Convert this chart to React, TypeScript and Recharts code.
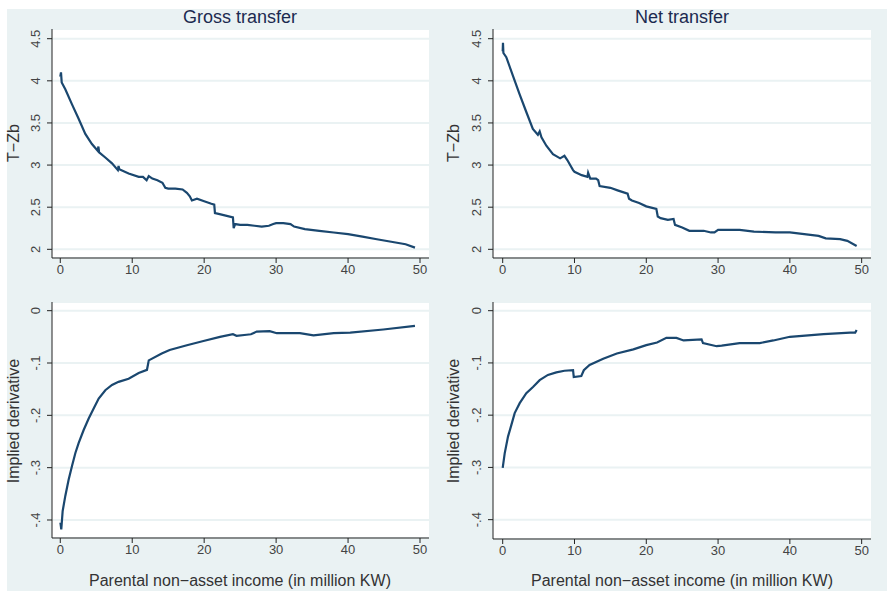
import React from "react";
import { LineChart, Line, XAxis, YAxis, CartesianGrid } from "recharts";

// Gross transfer, T-Zb (top left)
const grossX = [0, 0.1, 0.2, 0.7, 1.63, 2.55, 3.48, 4.4, 5.2, 5.3, 5.4, 6.26, 7.19, 8.0, 8.1, 8.2, 9.5, 10.9, 11.5, 12, 12.3, 12.8, 13.5, 14.2, 14.6, 15, 16, 17, 17.6, 18, 18.3, 19, 20, 21, 21.4, 21.5, 22, 23, 24, 24.1, 24.3, 25, 26, 27, 28, 29, 29.6, 30, 31, 32, 32.5, 34, 36, 38, 40, 42, 44, 46, 48, 49.3];
const grossTZb = [4.05, 4.1, 3.98, 3.9, 3.72, 3.55, 3.37, 3.25, 3.17, 3.22, 3.15, 3.09, 3.02, 2.94, 2.99, 2.95, 2.9, 2.86, 2.86, 2.82, 2.87, 2.84, 2.82, 2.79, 2.73, 2.72, 2.72, 2.71, 2.67, 2.63, 2.58, 2.6, 2.57, 2.54, 2.53, 2.43, 2.42, 2.4, 2.38, 2.25, 2.3, 2.29, 2.29, 2.28, 2.27, 2.28, 2.3, 2.31, 2.31, 2.3, 2.27, 2.24, 2.22, 2.2, 2.18, 2.15, 2.12, 2.09, 2.06, 2.02];

// Net transfer, T-Zb (top right)
const netX = [0, 0.04, 0.1, 0.5, 1.43, 2.36, 3.29, 4.2, 4.9, 5.15, 5.4, 6.08, 7.0, 8.0, 8.6, 9.0, 9.8, 10, 11, 11.8, 11.9, 12.2, 13, 13.3, 13.5, 15, 16, 17.4, 17.6, 18, 19, 20, 21.4, 21.6, 22, 23, 23.8, 24, 25, 26, 27, 28, 29, 29.5, 30, 31, 33, 35, 38, 40, 42, 44, 45, 47, 48, 49.3];
const netTZb = [4.35, 4.45, 4.33, 4.28, 4.06, 3.84, 3.63, 3.43, 3.36, 3.4, 3.33, 3.23, 3.13, 3.08, 3.11, 3.06, 2.94, 2.92, 2.88, 2.86, 2.91, 2.84, 2.84, 2.82, 2.75, 2.73, 2.7, 2.66, 2.6, 2.58, 2.55, 2.51, 2.48, 2.39, 2.37, 2.35, 2.36, 2.29, 2.26, 2.22, 2.22, 2.22, 2.2, 2.2, 2.23, 2.23, 2.23, 2.21, 2.2, 2.2, 2.18, 2.16, 2.13, 2.12, 2.1, 2.04];

// Gross transfer, implied derivative (bottom left)
const grossDX = [0.02, 0.14, 0.33, 0.7, 1.16, 1.63, 2.1, 2.55, 3.25, 3.95, 4.64, 5.34, 6.26, 7.19, 8.1, 9.5, 10.9, 12.05, 12.3, 14.1, 15.2, 17.6, 19.9, 22.2, 24, 24.5, 25.9, 26.5, 27.3, 29.1, 30.1, 33.3, 35.2, 38, 40.3, 44.9, 49.3];
const grossDeriv = [-0.405, -0.418, -0.383, -0.354, -0.323, -0.297, -0.272, -0.253, -0.228, -0.206, -0.187, -0.168, -0.152, -0.142, -0.136, -0.13, -0.119, -0.113, -0.095, -0.082, -0.075, -0.066, -0.058, -0.05, -0.045, -0.048, -0.046, -0.045, -0.04, -0.039, -0.043, -0.043, -0.047, -0.043, -0.042, -0.036, -0.029];

// Net transfer, implied derivative (bottom right)
const netDX = [0, 0.28, 0.74, 1.2, 1.67, 2.37, 3.29, 4.22, 5.15, 6.3, 7.47, 8.6, 9.8, 9.9, 10.95, 11.3, 12.1, 14, 15.9, 18.2, 20, 21.5, 22.8, 24.2, 25.2, 27.7, 27.9, 29.8, 30.5, 33, 35.8, 37.7, 40, 44.7, 48.4, 49.1, 49.3];
const netDeriv = [-0.301, -0.273, -0.241, -0.219, -0.196, -0.177, -0.158, -0.146, -0.133, -0.123, -0.118, -0.115, -0.114, -0.127, -0.125, -0.114, -0.104, -0.092, -0.082, -0.074, -0.066, -0.061, -0.052, -0.052, -0.057, -0.055, -0.062, -0.068, -0.067, -0.062, -0.062, -0.057, -0.05, -0.045, -0.042, -0.042, -0.037];

const xTicks = [0, 10, 20, 30, 40, 50];
const tzbTicks = [2, 2.5, 3, 3.5, 4, 4.5];
const derivTicks = [-0.4, -0.3, -0.2, -0.1, 0];

const W = 887;
const H = 591;
const FONT = "'Liberation Sans', Arial, sans-serif";
const LINE = "#1a476f";
const BG = "#eaf2f3";

const zip = (xs: number[], ys: number[]) => xs.map((x, i) => ({ x, y: ys[i] }));

const fmtY = (v: number) => {
  if (v === 0) return "0";
  const s = String(Number(v.toFixed(2)));
  return s.replace(/^(-?)0\./, "$1.");
};

function YTick(props: any) {
  const { y, payload } = props;
  const x = props.axisX;
  return (
    <text
      x={x}
      y={y}
      transform={`rotate(-90 ${x} ${y})`}
      textAnchor="middle"
      fontSize={13}
      fill="#444"
      fontFamily={FONT}
    >
      {fmtY(payload.value)}
    </text>
  );
}

interface PanelProps {
  data: { x: number; y: number }[];
  box: [number, number, number, number]; // left, top, right, bottom of the plot area
  xDomain: [number, number];
  yDomain: [number, number];
  yTicks: number[];
}

function Panel({ data, box, xDomain, yDomain, yTicks }: PanelProps) {
  const [l, t, r, b] = box;
  const yw = 30;
  const xh = 30;
  return (
    <div style={{ position: "absolute", left: 0, top: 0 }}>
      <LineChart
        width={W}
        height={H}
        data={data}
        margin={{ left: l - yw, top: t, right: W - r, bottom: H - b - xh }}
      >
        <CartesianGrid fill="#fff" vertical={false} stroke={BG} strokeWidth={2} />
        <XAxis
          type="number"
          dataKey="x"
          domain={xDomain}
          ticks={xTicks}
          allowDataOverflow
          height={xh}
          stroke="#222"
          tickSize={5}
          tick={{ fontSize: 13, fill: "#444", fontFamily: FONT }}
        />
        <YAxis
          type="number"
          domain={yDomain}
          ticks={yTicks}
          allowDataOverflow
          width={yw}
          stroke="#222"
          tickSize={5}
          tick={<YTick axisX={l - 12} />}
        />
        <Line
          type="linear"
          dataKey="y"
          stroke={LINE}
          strokeWidth={2.2}
          dot={false}
          isAnimationActive={false}
        />
      </LineChart>
    </div>
  );
}

const label = (text: string, x: number, y: number, size: number, color: string, rotate = false) => (
  <div
    style={{
      position: "absolute",
      left: x,
      top: y,
      transform: `translate(-50%, -50%)${rotate ? " rotate(-90deg)" : ""}`,
      whiteSpace: "nowrap",
      fontSize: size,
      color,
      fontFamily: FONT,
      lineHeight: 1,
    }}
  >
    {text}
  </div>
);

export default function App() {
  return (
    <div style={{ position: "absolute", left: 0, top: 0, width: W, height: H, background: "#fff", overflow: "hidden" }}>
      <div style={{ position: "absolute", left: 7, top: 9, width: W - 7, height: H - 9, background: BG }} />
      <Panel data={zip(grossX, grossTZb)} box={[52, 29, 429, 258]} xDomain={[-1.15, 51.25]} yDomain={[1.897, 4.615]} yTicks={tzbTicks} />
      <Panel data={zip(netX, netTZb)} box={[493, 29, 871, 258]} xDomain={[-1.35, 51.3]} yDomain={[1.897, 4.615]} yTicks={tzbTicks} />
      <Panel data={zip(grossDX, grossDeriv)} box={[52, 302, 429, 538]} xDomain={[-1.15, 51.25]} yDomain={[-0.4344, 0.0166]} yTicks={derivTicks} />
      <Panel data={zip(netDX, netDeriv)} box={[493, 302, 871, 539]} xDomain={[-1.35, 51.3]} yDomain={[-0.437, 0.0166]} yTicks={derivTicks} />
      {label("Gross transfer", 240, 17, 18, "#1c2a50")}
      {label("Net transfer", 682, 17, 18, "#1c2a50")}
      {label("T−Zb", 14, 143, 16, "#333", true)}
      {label("T−Zb", 454, 143, 16, "#333", true)}
      {label("Implied derivative", 14, 421, 16, "#333", true)}
      {label("Implied derivative", 454, 421, 16, "#333", true)}
      {label("Parental non−asset income (in million KW)", 240, 581, 16, "#333")}
      {label("Parental non−asset income (in million KW)", 682, 581, 16, "#333")}
    </div>
  );
}
